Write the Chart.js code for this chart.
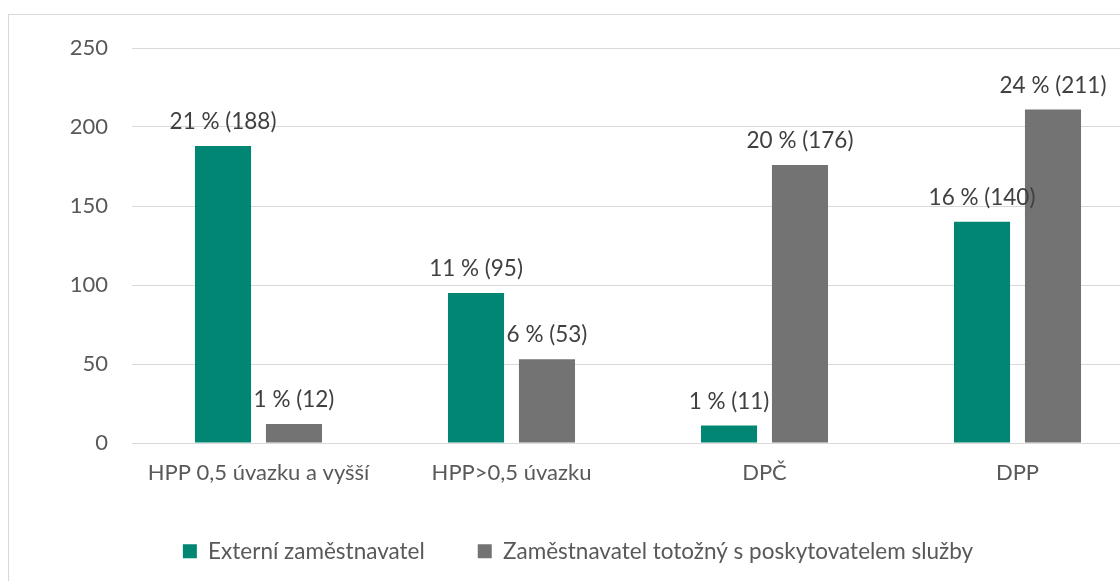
<!DOCTYPE html>
<html>
<head>
<meta charset="utf-8">
<script src="https://cdn.jsdelivr.net/npm/chart.js@4/dist/chart.umd.min.js"></script>
<style>
  html, body { margin: 0; padding: 0; background: #fff; overflow: hidden; }
  #frame { position: absolute; left: 8px; top: 14px; width: 1200px; height: 700px; border: 1px solid #d9d9d9; box-sizing: border-box; }
  #wrap { position: absolute; left: 0; top: 0; width: 1160px; height: 581px; }
</style>
</head>
<body>
<div id="frame"></div>
<div id="wrap"><canvas id="barChart"></canvas></div>
<script>
// Data
const categories = ['HPP 0,5 úvazku a vyšší', 'HPP>0,5 úvazku', 'DPČ', 'DPP'];
const externi = [188, 95, 11, 140];
const externiPct = [21, 11, 1, 16];
const totozny = [12, 53, 176, 211];
const totoznyPct = [1, 6, 20, 24];
const yTicks = [0, 50, 100, 150, 200, 250];

const FONT = 'Lato, "Open Sans", sans-serif';
const FSIZE = 22;
const LSIZE = 22.5;

// labels above bars: "21 % (188)"
const valueLabels = {
    id: 'valueLabels',
    afterDatasetsDraw(chart) {
        const ctx = chart.ctx;
        ctx.save();
        ctx.font = LSIZE + 'px ' + FONT;
        ctx.fillStyle = '#404040';
        ctx.textAlign = 'center';
        ctx.textBaseline = 'bottom';
        chart.data.datasets.forEach((ds, i) => {
            chart.getDatasetMeta(i).data.forEach((bar, j) => {
                const txt = ds.pct[j] + ' % (' + ds.data[j] + ')';
                ctx.fillText(txt, bar.x, bar.y - 13);
            });
        });
        ctx.restore();
    }
};

const ctx = document.getElementById('barChart').getContext('2d');
const barChart = new Chart(ctx, {
    type: 'bar',
    data: {
        labels: categories,
        datasets: [{
            label: 'Externí zaměstnavatel',
            data: externi,
            pct: externiPct,
            backgroundColor: '#008672',
            categoryPercentage: 0.561,
            barPercentage: 0.79
        }, {
            label: 'Zaměstnavatel totožný s poskytovatelem služby',
            data: totozny,
            pct: totoznyPct,
            backgroundColor: '#737373',
            categoryPercentage: 0.561,
            barPercentage: 0.79
        }]
    },
    options: {
        responsive: true,
        maintainAspectRatio: false,
        animation: false,
        layout: { padding: { top: 48, left: 12, right: 16, bottom: 8.5 } },
        scales: {
            x: {
                grid: { display: false, drawTicks: false },
                border: { display: false },
                afterFit(scale) { scale.height = 44; },
                ticks: { color: '#595959', font: { family: FONT, size: FSIZE }, padding: 17, maxRotation: 0 }
            },
            y: {
                min: 0,
                max: 250,
                afterFit(scale) { scale.width = 120; },
                afterBuildTicks(scale) { scale.ticks = yTicks.map(v => ({ value: v })); },
                grid: { color: '#d9d9d9', drawTicks: false },
                border: { display: false },
                ticks: { color: '#595959', font: { family: FONT, size: FSIZE }, padding: 24 }
            }
        },
        plugins: {
            legend: {
                position: 'bottom',
                labels: {
                    color: '#595959',
                    font: { family: FONT, size: LSIZE },
                    boxWidth: 14,
                    boxHeight: 14,
                    padding: 53
                }
            },
            tooltip: { enabled: false }
        }
    },
    plugins: [valueLabels]
});
</script>
</body>
</html>
